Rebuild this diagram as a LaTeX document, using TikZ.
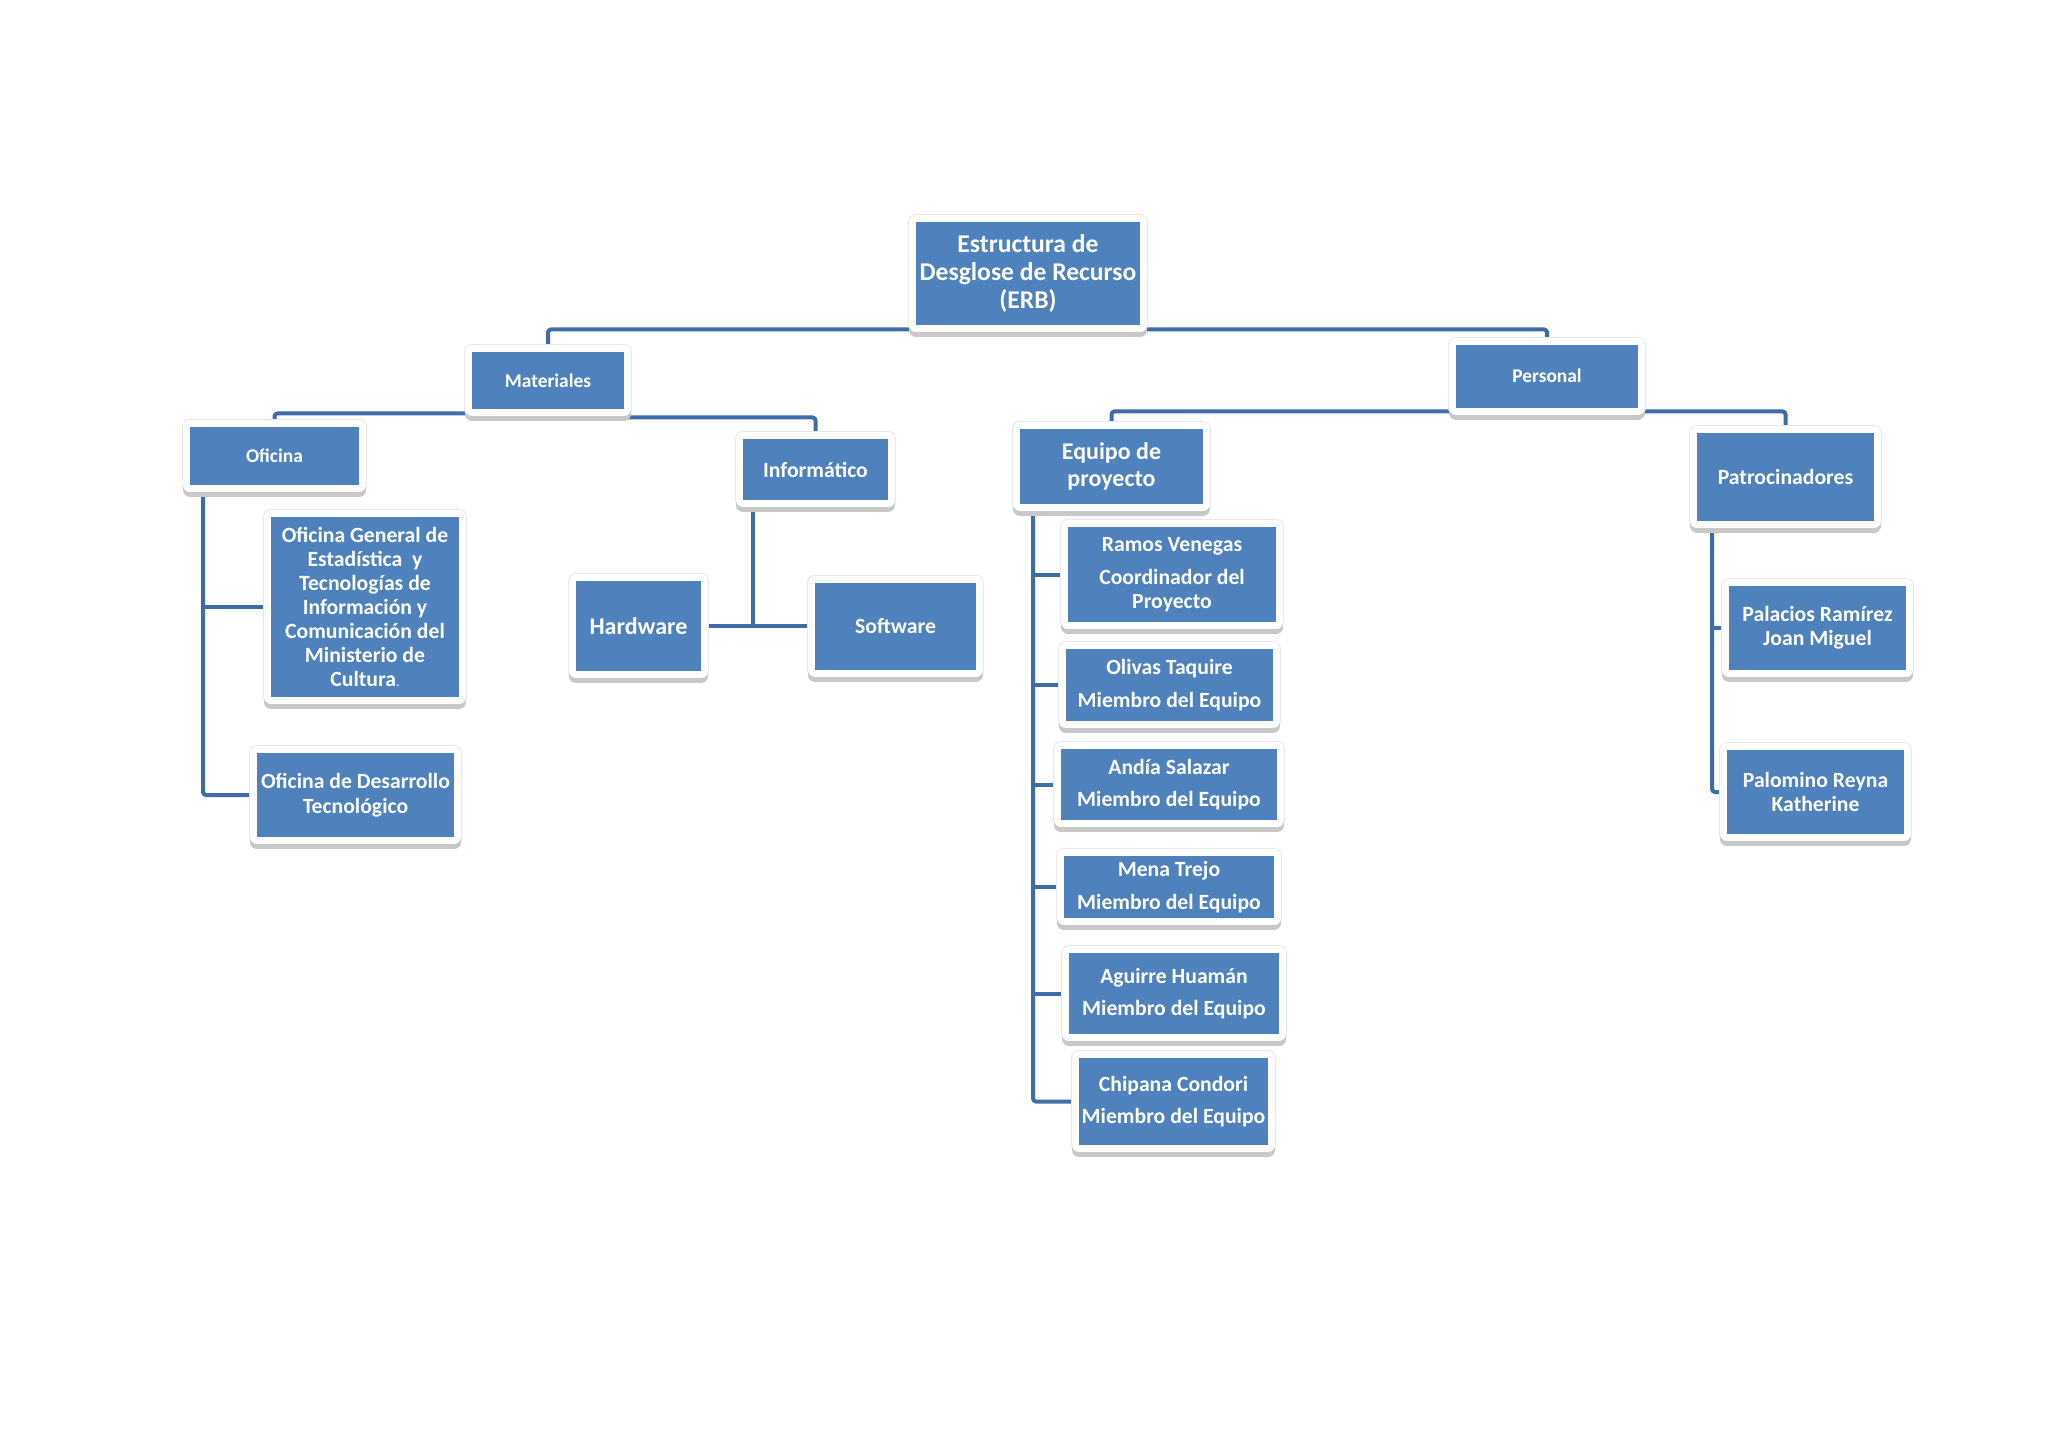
\documentclass[tikz,border=0pt]{standalone}
\usepackage{fontspec}
\setmainfont{Carlito}
\pgfdeclarelayer{bg}
\pgfsetlayers{bg,main}
\definecolor{boxblue}{RGB}{79,129,189}
\definecolor{lineblue}{RGB}{62,108,168}
\definecolor{shadowgray}{RGB}{200,200,200}
\definecolor{edgegray}{RGB}{232,232,232}
\begin{document}
\begin{tikzpicture}[x=0.5pt, y=-0.5pt,
  box/.style={rectangle, fill=boxblue, text=white, align=center, inner sep=0pt,
    preaction={draw=edgegray, fill=edgegray, line width=8pt, line join=round},
    preaction={draw=shadowgray, fill=shadowgray, line width=7pt, line join=round, transform canvas={yshift=-2.5pt}},
    preaction={draw=white, fill=white, line width=7pt, line join=round}},
  sz/.style 2 args={minimum width=#1*0.5pt, minimum height=#2*0.5pt},
  fs/.style 2 args={font=\bfseries\fontsize{#1}{#2}\selectfont},
  conn/.style={draw=lineblue, line width=2pt, line join=round, rounded corners=1.5pt}]
\useasboundingbox (0,0) rectangle (2048,1448);

% top
\node[box, sz={224}{103}, fs={12.8}{14}] (erb) at (1028,273.5) {Estructura de\\Desglose de Recurso\\(ERB)};
\node[box, sz={152}{57}, fs={9.7}{11}] (mat) at (548,380.5) {Materiales};
\node[box, sz={182}{63}, fs={9.7}{11}] (per) at (1547,376) {Personal};

% Materiales branch
\node[box, sz={169}{58}, fs={9.7}{11}] (ofi) at (274.5,456) {Oficina};
\node[box, sz={145}{61}, fs={10.85}{12}] (inf) at (815.5,469.5) {Informático};
\node[box, sz={125}{90}, fs={12}{13}] (hw) at (638.5,626) {Hardware};
\node[box, sz={161}{87}, fs={10.85}{12}] (sw) at (895.5,626) {Software};
\node[box, sz={188}{180}, fs={10.85}{12}] (oge) at (365,607) {Oficina General de\\Estadística~ y\\Tecnologías de\\Información y\\Comunicación del\\Ministerio de\\Cultura{\mdseries\fontsize{7}{8}\selectfont.}};
\node[box, sz={197}{84}, fs={10.85}{12.8}] (odt) at (355.5,795) {Oficina de Desarrollo\\Tecnológico};

% Personal branch
\node[box, sz={183}{75}, fs={12}{13.3}] (eq) at (1111.5,466.5) {Equipo de\\proyecto};
\node[box, sz={177}{88}, fs={10.85}{12}] (pat) at (1785.5,477) {Patrocinadores};
\node[box, sz={177}{84}, fs={10.85}{12}] (pal) at (1817.5,628) {Palacios Ramírez\\Joan Miguel};
\node[box, sz={177}{84}, fs={10.85}{12}] (pam) at (1815.5,792) {Palomino Reyna\\Katherine};

\node[box, sz={208}{95}, fs={10.85}{11.8}] (ram) at (1172,574.5) {Ramos Venegas\\[4.7pt]Coordinador del\\Proyecto};
\node[box, sz={207}{72}, fs={10.85}{11.8}] (oli) at (1169.5,685) {Olivas Taquire\\[4.5pt]Miembro del Equipo};
\node[box, sz={216}{71}, fs={10.85}{11.8}] (and) at (1169,784.5) {Andía Salazar\\[4.5pt]Miembro del Equipo};
\node[box, sz={210}{62}, fs={10.85}{11.8}] (men) at (1169,887) {Mena Trejo\\[4.5pt]Miembro del Equipo};
\node[box, sz={210}{81}, fs={10.85}{11.8}] (agu) at (1174,993.5) {Aguirre Huamán\\[4.5pt]Miembro del Equipo};
\node[box, sz={189}{87}, fs={10.85}{11.8}] (chi) at (1173.5,1101.5) {Chipana Condori\\[4.5pt]Miembro del Equipo};

\coordinate (ij) at (753,626);
\coordinate (ot) at (203,0);
\coordinate (et) at (1033,0);
\coordinate (pt) at (1712,0);

\begin{pgfonlayer}{bg}
\fill[white] (0,0) rectangle (2048,1448);
\draw[conn] (mat.north) |- ([yshift=-2pt]erb.south) -| (per.north);
\draw[conn] (ofi.north) |- ([yshift=-2pt]mat.south);
\draw[conn] (inf.north) |- ([yshift=-4pt]mat.south);
\draw[conn] (inf.south -| ij) -- (ij);
\draw[conn] (hw.east) -- (sw.west);
\draw[conn] (ofi.south -| ot) |- (odt.west);
\draw[conn] (ot |- oge.west) -- (oge.west);
\draw[conn] (eq.north) |- ([yshift=-1.75pt]per.south) -| (pat.north);
\draw[conn] (eq.south -| et) |- (chi.west);
\draw[conn] (et |- ram.west) -- (ram.west);
\draw[conn] (et |- oli.west) -- (oli.west);
\draw[conn] (et |- and.west) -- (and.west);
\draw[conn] (et |- men.west) -- (men.west);
\draw[conn] (et |- agu.west) -- (agu.west);
\draw[conn] (pat.south -| pt) |- (pam.west);
\draw[conn] (pt |- pal.west) -- (pal.west);
\end{pgfonlayer}
\end{tikzpicture}
\end{document}
